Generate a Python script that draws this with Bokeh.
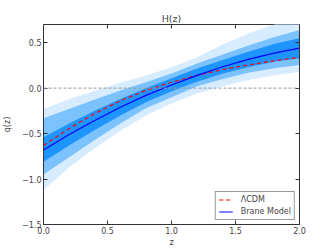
from bokeh.plotting import figure
from bokeh.models import (Range1d, Span, LinearAxis, FixedTicker, Legend,
                          CustomLabelingPolicy, CustomJSTickFormatter)
from bokeh.embed import file_html
from bokeh.resources import INLINE

z = [0.0, 0.2, 0.4, 0.6, 0.8, 1.0, 1.2, 1.4, 1.6, 1.8, 2.0]
brane = [-0.68, -0.51, -0.355, -0.21, -0.08, 0.035, 0.14, 0.235, 0.317, 0.385, 0.44]
lcdm = [-0.63, -0.445, -0.28, -0.14, -0.025, 0.065, 0.14, 0.205, 0.255, 0.30, 0.34]
s3_hi = [-0.23, -0.12, -0.03, 0.06, 0.14, 0.23, 0.34, 0.48, 0.60, 0.70, 0.78]
s3_lo = [-1.12, -0.87, -0.66, -0.47, -0.30, -0.17, -0.06, 0.02, 0.09, 0.14, 0.18]
s2_hi = [-0.33, -0.23, -0.125, -0.025, 0.065, 0.16, 0.27, 0.37, 0.47, 0.56, 0.64]
s2_lo = [-0.95, -0.76, -0.57, -0.39, -0.22, -0.10, 0.02, 0.10, 0.17, 0.22, 0.255]
s1_hi = [-0.54, -0.39, -0.25, -0.12, 0.0, 0.11, 0.215, 0.31, 0.40, 0.485, 0.55]
s1_lo = [-0.81, -0.63, -0.46, -0.30, -0.155, -0.035, 0.07, 0.16, 0.23, 0.29, 0.33]
x_ticks = [0.0, 0.5, 1.0, 1.5, 2.0]
y_ticks = [-1.5, -1.0, -0.5, 0.0, 0.5]
x_min, x_max = 0.0, 2.0
y_min, y_max = -1.5, 0.7

FONT = "DejaVu Sans"

p = figure(width=332, height=249, output_backend="svg", toolbar_location=None,
           x_range=Range1d(x_min, x_max), y_range=Range1d(y_min, y_max),
           title="H(z)", x_axis_label="z", y_axis_label="q(z)",
           min_border_left=42, min_border_right=33, min_border_top=24, min_border_bottom=25)

p.title.align = "center"
p.title.text_font = FONT
p.title.text_font_size = "9.5px"
p.title.text_font_style = "normal"
p.title.standoff = 2

p.xgrid.visible = False
p.ygrid.visible = False
p.outline_line_color = "#333333"
p.outline_line_width = 1
p.background_fill_color = "white"
p.border_fill_color = "white"

fmt = CustomJSTickFormatter(code="return tick.toFixed(1).replace('-', '\u2212')")

for ax, ticks in ((p.xaxis[0], x_ticks), (p.yaxis[0], y_ticks)):
    ax.ticker = FixedTicker(ticks=ticks)
    ax.formatter = fmt
    ax.minor_tick_line_color = None
    ax.major_tick_in = 4
    ax.major_tick_out = 0
    ax.axis_line_color = "#333333"
    ax.major_tick_line_color = "#333333"
    ax.major_label_text_font = FONT
    ax.major_label_text_font_size = "8px"
    ax.major_label_standoff = 2
    ax.axis_label_text_font = FONT
    ax.axis_label_text_font_size = "8px"
    ax.axis_label_text_font_style = "normal"

p.xaxis[0].axis_label_standoff = 1
p.yaxis[0].axis_label_standoff = 7

# right-hand ticks (no labels)
a = LinearAxis(ticker=FixedTicker(ticks=y_ticks))
a.minor_tick_line_color = None
a.major_tick_in = 4
a.major_tick_out = 0
a.major_label_policy = CustomLabelingPolicy(code="return new Set()")
a.major_label_standoff = 0
a.axis_line_color = "#333333"
a.major_tick_line_color = "#333333"
p.add_layout(a, "right")

p.varea(x=z, y1=s3_lo, y2=s3_hi, fill_color="#d8ecff", fill_alpha=1.0)
p.varea(x=z, y1=s2_lo, y2=s2_hi, fill_color="#7cc2ff", fill_alpha=1.0)
p.varea(x=z, y1=s1_lo, y2=s1_hi, fill_color="#1e94ff", fill_alpha=1.0)

p.add_layout(Span(location=0.0, dimension="width", line_color="#999999",
                  line_dash="3 2", line_width=1))

r_l = p.line(z, lcdm, line_color="red", line_dash="4 3", line_width=1.2)
r_b = p.line(z, brane, line_color="blue", line_width=1.2)

# top ticks (matplotlib style, inward)
p.scatter(x=x_ticks[1:-1], y=[y_max] * (len(x_ticks) - 2), marker="dash", size=8,
          angle=1.5708, line_color="#333333", line_width=1)

leg = Legend(items=[("ΛCDM", [r_l]), ("Brane Model", [r_b])], location="bottom_right")
leg.label_text_font = FONT
leg.label_text_font_size = "8px"
leg.border_line_color = "#333333"
leg.border_line_width = 1
leg.glyph_width = 14
leg.glyph_height = 9
leg.label_height = 9
leg.spacing = 3
leg.padding = 3
leg.margin = 4
leg.label_standoff = 8
leg.background_fill_alpha = 1.0
p.add_layout(leg)

open("out.html", "w").write(file_html(p, INLINE))
